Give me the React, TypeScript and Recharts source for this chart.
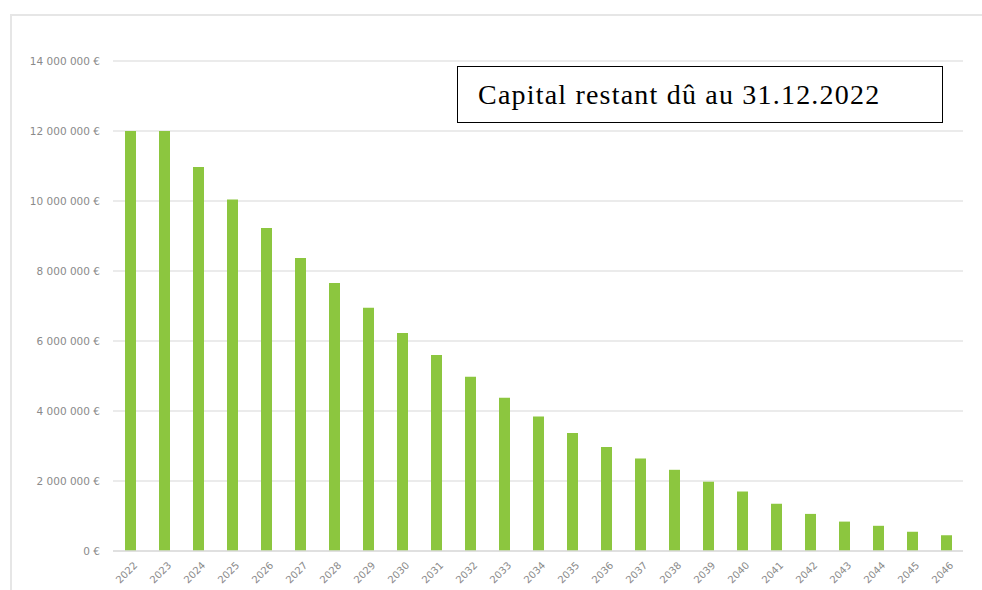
import { BarChart, Bar, XAxis, YAxis, CartesianGrid } from "recharts";

const years = [
  "2022", "2023", "2024", "2025", "2026", "2027", "2028", "2029", "2030",
  "2031", "2032", "2033", "2034", "2035", "2036", "2037", "2038", "2039",
  "2040", "2041", "2042", "2043", "2044", "2045", "2046",
];

// capital restant dû (€)
const capital = [
  12000000, 12000000, 10970000, 10040000, 9230000, 8370000, 7660000, 6950000,
  6230000, 5600000, 4980000, 4380000, 3840000, 3370000, 2970000, 2640000,
  2320000, 1980000, 1700000, 1350000, 1060000, 840000, 720000, 550000, 450000,
];

const yTicks = [0, 2000000, 4000000, 6000000, 8000000, 10000000, 12000000, 14000000];

const title = "Capital restant dû au 31.12.2022";

const data = years.map((y, i) => ({ year: y, value: capital[i] }));

const fmtEuro = (v: number) =>
  v === 0 ? "0 €" : v.toLocaleString("fr-FR").replace(/[\u202f\u00a0]/g, " ") + " €";

function YearTick(props: any) {
  const { x, y, payload } = props;
  return (
    <g transform={`translate(${x + 8},${y + 7})`}>
      <text
        x={0}
        y={0}
        textAnchor="end"
        transform="rotate(-45)"
        fontSize={10}
        fill="#8a8a8a"
        fontFamily="DejaVu Sans"
      >
        {payload.value}
      </text>
    </g>
  );
}

export default function App() {
  return (
    <div
      style={{
        position: "absolute",
        left: 0,
        top: 0,
        width: 982,
        height: 590,
        background: "#fff",
        overflow: "hidden",
      }}
    >
      {/* cadre gris du graphique */}
      <div style={{ position: "absolute", left: 10, top: 14, right: 0, height: 2, background: "#e6e6e6" }} />
      <div style={{ position: "absolute", left: 10, top: 14, bottom: 0, width: 2, background: "#e6e6e6" }} />

      <BarChart
        width={982}
        height={590}
        data={data}
        margin={{ top: 61, right: 19, bottom: 0, left: 0 }}
      >
        <CartesianGrid vertical={false} stroke="#e4e4e4" strokeWidth={1.5} />
        <XAxis
          dataKey="year"
          height={39}
          interval={0}
          tickLine={false}
          axisLine={{ stroke: "#dcdcdc", strokeWidth: 1.5 }}
          tick={<YearTick />}
        />
        <YAxis
          width={113}
          domain={[0, 14000000]}
          ticks={yTicks}
          tickFormatter={fmtEuro}
          axisLine={false}
          tickLine={false}
          tickSize={0}
          tickMargin={13}
          tick={{ fontSize: 10.5, fill: "#8a8a8a", fontFamily: "DejaVu Sans" }}
        />
        <Bar dataKey="value" fill="#8cc63f" barSize={11} isAnimationActive={false} />
      </BarChart>

      <div
        style={{
          position: "absolute",
          left: 457,
          top: 66,
          width: 484,
          height: 55,
          border: "1.5px solid #000",
          background: "#fff",
          boxSizing: "content-box",
          fontFamily: "'Liberation Serif', serif",
          fontSize: 28,
          letterSpacing: 1.2,
          color: "#000",
          display: "flex",
          alignItems: "center",
        }}
      >
        <span style={{ marginLeft: 20 }}>{title}</span>
      </div>
    </div>
  );
}
